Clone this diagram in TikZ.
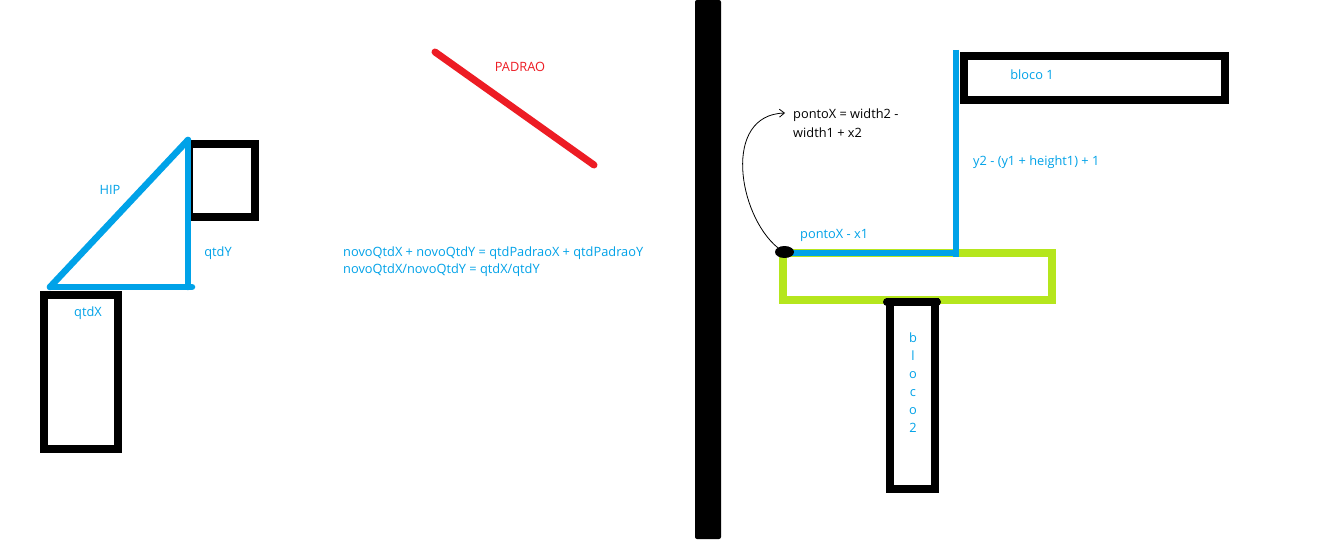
\documentclass[tikz,border=0pt]{standalone}
\usepackage{fontspec}
\setmainfont{Open Sans}
\usetikzlibrary{arrows.meta,shapes.geometric}
\definecolor{paintblue}{RGB}{0,162,232}
\definecolor{paintred}{RGB}{237,28,36}
\definecolor{paintgreen}{RGB}{181,230,29}
\tikzset{
	blueline/.style={paintblue, line width=6.5pt, line cap=round},
	blackbox/.style={draw=black, line width=8pt},
	bluetext/.style={text=paintblue, inner sep=0pt, font=\fontsize{12.8}{17}\selectfont},
	blacktext/.style={text=black, inner sep=0pt, font=\fontsize{12.8}{19}\selectfont},
}
\begin{document}
\begin{tikzpicture}[x=1pt,y=-1pt]
		\useasboundingbox[fill=white] (0,0) rectangle (1324,540);
		
		% left: triangle and blocks
		\coordinate (tl) at (50,287);
		\coordinate (tr) at (192,287);
		\coordinate (top) at (188,140);
		\draw[blackbox] (189,144) rectangle (255,217);
		\draw[blackbox] (44,295) rectangle (118,449);
		\draw[blueline] (tl) -- (top);
		\draw[blueline] (tl) -- (tr);
		\draw[blueline] (188,140) -- (188,287);
		
		\node[bluetext] (hip) at (110,190) {HIP};
		\node[bluetext] (qtdY) at (218,253) {qtdY};
		\node[bluetext] (qtdX) at (88,313) {qtdX};
		
		% padrao
		\draw[paintred, line width=7pt, line cap=round] (435,52) -- (594,165);
		\node[text=paintred, inner sep=0pt, font=\fontsize{12.8}{12}\selectfont] (padrao) at (520,67) {PADRAO};
		
		\node[bluetext, anchor=west, align=left] (formula) at (343,262) {novoQtdX + novoQtdY = qtdPadraoX + qtdPadraoY\\novoQtdX/novoQtdY = qtdX/qtdY};
		
		% divider
		\fill[black, rounded corners=2pt] (695,0) rectangle (721,539);
		
		% right: blocks
		\draw[blackbox] (964,56) rectangle (1225,100);
		\draw[draw=paintgreen, line width=8pt] (783,253) rectangle (1052,300);
		\draw[blackbox] (890,302) rectangle (935,489);
		\draw[black, line width=8pt, line cap=round] (887,302) -- (937,302);
		
		\draw[blueline, line cap=butt] (956,50) -- (956,257);
		\draw[blueline, line cap=butt] (784,253) -- (959,253);
		\node[ellipse, fill=black, minimum width=19pt, minimum height=12pt, inner sep=0pt] (dot) at (784.5,252) {};
		
		\node[bluetext] (bloco1) at (1032,75) {bloco 1};
		\node[bluetext, anchor=west] (dy) at (973,162) {y2 - (y1 + height1) + 1};
		\node[bluetext, anchor=west] (dx) at (800,235) {pontoX - x1};
		\node[bluetext, align=center, font=\fontsize{12.8}{18}\selectfont] (bloco2) at (913,383) {b\\l\\o\\c\\o\\2};
		
		\node[blacktext, anchor=west, align=left] (pontoX) at (793,123.5) {pontoX = width2 -\\width1 + x2};
		\coordinate (tip) at (785,113);
		\draw[-{Straight Barb[length=5pt,width=8pt]}, line width=0.8pt] (dot.north west) .. controls (738,215) and (722,115) .. (tip);

	\end{tikzpicture}
\end{document}
